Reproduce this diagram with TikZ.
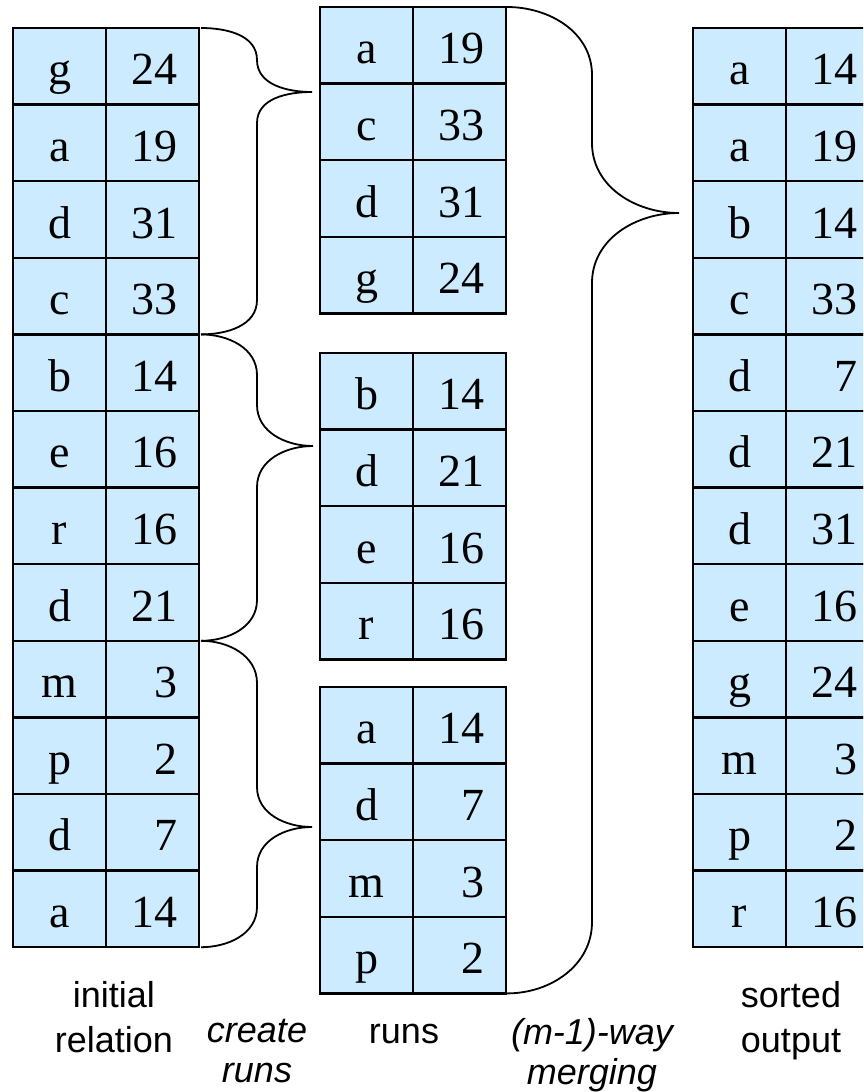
\documentclass[tikz,border=0pt]{standalone}
\usepackage{fontspec}
\setmainfont{Liberation Sans}
\newfontfamily\cellfont{Liberation Serif}
\usepackage{xcolor}
\usetikzlibrary{positioning}
\definecolor{cellblue}{RGB}{204,235,255}

\begin{document}
\begin{tikzpicture}[
    x=1pt, y=1pt,
    every node/.style={inner sep=0pt, outer sep=0pt},
    keycell/.style={rectangle, draw=black, fill=cellblue, line width=2.5pt, minimum width=93pt, minimum height=76.6pt, text height=37pt, text depth=0pt, font=\cellfont\fontsize{46}{50}\selectfont},
    valcell/.style={keycell, text width=49pt, align=right, inner xsep=22pt},
    caption/.style={align=center, anchor=north, font=\fontsize{36}{45}\selectfont},
    action/.style={caption, font=\itshape\fontsize{36}{40}\selectfont},
    brace/.style={line width=1.8pt, draw=black}
]
\useasboundingbox (0,0) rectangle (863,-1092);
\clip (0,0) rectangle (863,-1092);

% Initial relation
\foreach \k/\v [count=\i] in {g/24, a/19, d/31, c/33, b/14, e/16, r/16, d/21, m/3, p/2, d/7, a/14} {
    \node (rel-k\i) [keycell] at (59.5, {10.3-76.6*\i}) {\k};
    \node (rel-v\i) [valcell, right=0pt of rel-k\i] {\v};
}

% Runs
\foreach \k/\v [count=\i] in {a/19, c/33, d/31, g/24} {
    \node (runa-k\i) [keycell] at (366.5, {31.3-76.6*\i}) {\k};
    \node (runa-v\i) [valcell, right=0pt of runa-k\i] {\v};
}
\foreach \k/\v [count=\i] in {b/14, d/21, e/16, r/16} {
    \node (runb-k\i) [keycell] at (366.5, {-314.7-76.6*\i}) {\k};
    \node (runb-v\i) [valcell, right=0pt of runb-k\i] {\v};
}
\foreach \k/\v [count=\i] in {a/14, d/7, m/3, p/2} {
    \node (runc-k\i) [keycell] at (366.5, {-648.7-76.6*\i}) {\k};
    \node (runc-v\i) [valcell, right=0pt of runc-k\i] {\v};
}

% Sorted output
\foreach \k/\v [count=\i] in {a/14, a/19, b/14, c/33, d/7, d/21, d/31, e/16, g/24, m/3, p/2, r/16} {
    \node (out-k\i) [keycell] at (739.5, {10.3-76.6*\i}) {\k};
    \node (out-v\i) [valcell, right=0pt of out-k\i] {\v};
}

% Brace tips
\coordinate (tipa) at (312,-92);
\coordinate (tipb) at (313,-446);
\coordinate (tipc) at (312,-827);
\coordinate (tipm) at (679,-213);

% Create runs
\draw [brace] ([xshift=2pt]rel-v1.north east) to[out=0,in=90] (257,-60)
    to[out=-90,in=180] (tipa) to[out=180,in=90] (257,-123) -- (257,-300)
    to[out=-90,in=0] ([xshift=2pt]rel-v4.south east);
\draw [brace] ([xshift=2pt]rel-v4.south east) to[out=0,in=90] (257,-375) -- (257,-405)
    to[out=-90,in=180] (tipb) to[out=180,in=90] (257,-487) -- (257,-600)
    to[out=-90,in=0] ([xshift=2pt]rel-v8.south east);
\draw [brace] ([xshift=2pt]rel-v8.south east) to[out=0,in=90] (257,-683) -- (257,-787)
    to[out=-90,in=180] (tipc) to[out=180,in=90] (257,-867) -- (257,-907)
    to[out=-90,in=0] ([xshift=2pt]rel-v12.south east);

% Merging
\draw [brace] ([xshift=1pt]runa-v1.north east) to[out=0,in=90] (592,-75) -- (592,-143)
    to[out=-90,in=180] (tipm) to[out=180,in=90] (592,-283) -- (592,-922)
    to[out=-90,in=0] ([xshift=1pt]runc-v4.south east);

% Captions
\node (cap-rel) [caption] at (114,-981) {initial\\relation};
\node (cap-create) [action] at (257,-1019) {create\\runs};
\node (cap-runs) [caption] at (404,-1024) {runs};
\node (cap-merge) [action] at (592,-1018) {(m-1)-way\\merging};
\node (cap-out) [caption] at (791,-981) {sorted\\output};

\end{tikzpicture}
\end{document}
